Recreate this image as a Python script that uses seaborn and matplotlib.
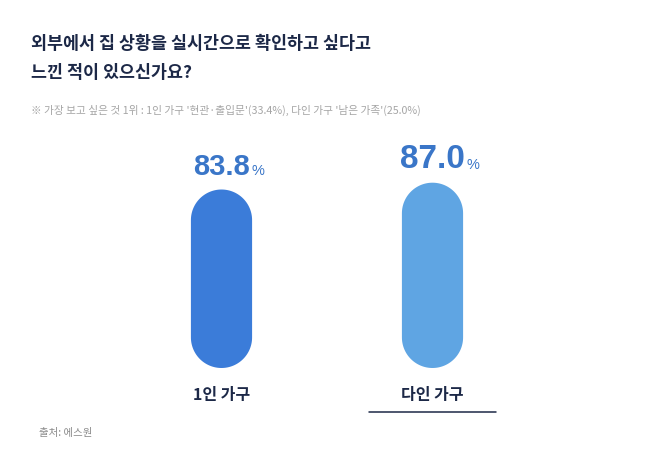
import numpy as np
import pandas as pd
import seaborn as sns
import matplotlib.pyplot as plt
from matplotlib.patches import Polygon

# data
categories = ['1인 가구', '다인 가구']
values = [83.8, 87.0]
value_labels = ['83.8', '87.0']
bar_colors = ['#3b7cd9', '#5fa5e3']
label_sizes = [21, 24]

title = '외부에서 집 상황을 실시간으로 확인하고 싶다고\n느낀 적이 있으신가요?'
subtitle = "※ 가장 보고 싶은 것 1위 : 1인 가구 '현관·출입문'(33.4%), 다인 가구 '남은 가족'(25.0%)"
source = '출처: 에스원'

sns.set_style('white')
plt.rcParams['font.family'] = ['Noto Sans CJK KR', 'DejaVu Sans']

navy = '#1c2847'
blue_txt = '#3a76c8'

df = pd.DataFrame({'cat': categories, 'val': values})

fig = plt.figure(figsize=(6.58, 4.52), dpi=100)
ax = fig.add_axes([116 / 658, 83 / 452, 422 / 658, 213 / 452])

sns.barplot(data=df, x='cat', y='val', hue='cat', palette=bar_colors,
            saturation=1, width=0.29, legend=False, ax=ax)
ax.set_xlim(-0.5, 1.5)
ax.set_ylim(0, 100)
ax.axis('off')

# turn the bars into pills with true half-circle ends
fig.canvas.draw()
p0 = ax.transData.transform((0, 0))
p1 = ax.transData.transform((1, 1))
aspect = (p1[0] - p0[0]) / (p1[1] - p0[1])  # y units per x unit, same pixels
th = np.linspace(0, np.pi, 60)
for patch in list(ax.patches):
    x, y = patch.get_x(), patch.get_y()
    w, h = patch.get_width(), patch.get_height()
    r = w / 2
    cx = x + r
    ry = r * aspect
    top = np.column_stack([cx + r * np.cos(th), y + h - ry + ry * np.sin(th)])
    bot = np.column_stack([cx - r * np.cos(th), y + ry - ry * np.sin(th)])
    pill = Polygon(np.vstack([top, bot]), closed=True,
                   facecolor=patch.get_facecolor(), edgecolor='none')
    patch.set_visible(False)
    ax.add_patch(pill)

# value labels
for i, (v, lab, fs) in enumerate(zip(values, value_labels, label_sizes)):
    t = ax.annotate(lab, xy=(i, v), xytext=(0, 11.5), textcoords='offset points',
                    ha='center', va='baseline', fontsize=fs, fontweight='bold',
                    color=blue_txt, family=['Liberation Sans', 'DejaVu Sans'])
    ax.annotate('%', xy=(1, 0), xycoords=t, xytext=(1, 1.6),
                textcoords='offset points', ha='left', va='bottom',
                fontsize=10.5, color=blue_txt, family=['Liberation Sans', 'DejaVu Sans'])

# category labels
for i, c in enumerate(categories):
    ax.text(i, -12, c, ha='center', va='center', fontsize=11.5,
            fontweight='bold', color=navy, clip_on=False)
ax.plot([1 - 0.30, 1 + 0.30], [-20.7, -20.7], color=navy, lw=1.1, clip_on=False)

fig.text(31 / 658, 1 - 35 / 452, title, ha='left', va='top', fontsize=12.5,
         fontweight='bold', color=navy, linespacing=1.75)
fig.text(31 / 658, 1 - 110 / 452, subtitle, ha='left', va='center', fontsize=7.7,
         color='#a5a5a5')
fig.text(39 / 658, 1 - 433 / 452, source, ha='left', va='center', fontsize=7.5,
         color='#8a8a8a')

fig.savefig('out.png', dpi=100, facecolor='white')
